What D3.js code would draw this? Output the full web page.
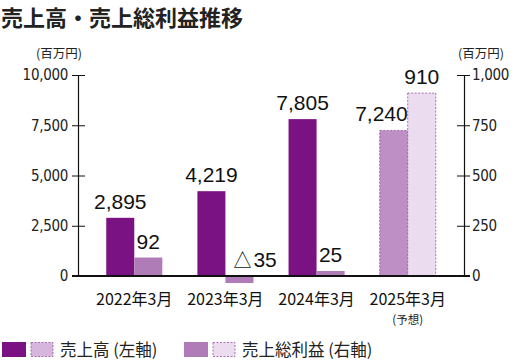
<!DOCTYPE html>
<html lang="ja">
<head>
<meta charset="UTF-8">
<title>売上高・売上総利益推移</title>
<script src="https://d3js.org/d3.v7.min.js"></script>
<style>
  body { margin: 0; background: #fff; }
  svg { display: block; }
  .tick text { font-family: "Liberation Sans Narrow", "DejaVu Sans Condensed", sans-serif; font-size: 15px; letter-spacing: -0.3px; fill: #222; }
  .tick line, .domain { stroke: #111; }
</style>
</head>
<body>
<svg width="513" height="361"></svg>
<script>
// data
const years = ["2022年3月", "2023年3月", "2024年3月", "2025年3月"];
const sales = [2895, 4219, 7805, 7240];          // 売上高 (左軸)
const grossProfit = [92, -35, 25, 910];          // 売上総利益 (右軸)
const salesText = ["2,895", "4,219", "7,805", "7,240"];
const profitText = ["92", "△35", "25", "910"];
const isForecast = [false, false, false, true];
const leftTicks = [0, 2500, 5000, 7500, 10000];
const rightTicks = [0, 250, 500, 750, 1000];

const colors = {
  sales: "#7b1283", salesFc: "#bd8fc5", salesFcLegend: "#d6b6dc",
  profit: "#b07cb8", profitFc: "#ecdcef", dash: "#9a4fa5"
};

const svg = d3.select("svg");
const fontJP = "'Noto Sans CJK JP', sans-serif";
const fontNum = "'Liberation Sans', Arial, sans-serif";

// title
svg.append("text")
  .attr("x", 1).attr("y", 26)
  .attr("font-family", fontJP).attr("font-weight", "bold")
  .attr("font-size", 22).attr("fill", "#222")
  .text("売上高・売上総利益推移");

// scales
const x = d3.scaleBand().domain(years).range([78, 464])
  .paddingInner(0.385).paddingOuter(0.31);
const sub = d3.scaleBand().domain(["s", "p"]).range([0, x.bandwidth()]);
const yL = d3.scaleLinear().domain([0, 10000]).range([276, 75]);
const yR = d3.scaleLinear().domain([0, 1000]).range([276, 75]);

// axes
const axL = svg.append("g").attr("transform", "translate(78,0)")
  .call(d3.axisLeft(yL).tickValues(leftTicks).tickFormat(d3.format(",")).tickSize(6).tickPadding(4).tickSizeOuter(0));
axL.selectAll(".tick line").attr("x2", -6).attr("x1", 7);
axL.select(".domain").attr("stroke-width", 1.2);

const axR = svg.append("g").attr("transform", "translate(464,0)")
  .call(d3.axisRight(yR).tickValues(rightTicks).tickFormat(d3.format(",")).tickSize(6).tickPadding(2).tickSizeOuter(0));
axR.selectAll(".tick line").attr("x1", -7).attr("x2", 6);
axR.select(".domain").attr("stroke-width", 1.2);

// unit labels
[[59, "(百万円)"], [481, "(百万円)"]].forEach(([cx, t]) => {
  svg.append("text").attr("x", cx).attr("y", 58).attr("text-anchor", "middle")
    .attr("font-family", fontJP).attr("font-size", 12.5).attr("fill", "#222").text(t);
});

// bars
const rows = years.map((y, i) => ({ year: y, s: sales[i], p: grossProfit[i], st: salesText[i], pt: profitText[i], fc: isForecast[i] }));

const g = svg.append("g");
rows.forEach(d => {
  const x0 = x(d.year);
  // sales
  g.append("rect")
    .attr("x", x0 + sub("s")).attr("width", sub.bandwidth())
    .attr("y", yL(d.s)).attr("height", yL(0) - yL(d.s))
    .attr("fill", d.fc ? colors.salesFc : colors.sales)
    .attr("stroke", d.fc ? colors.dash : "none")
    .attr("stroke-dasharray", d.fc ? "2,1.5" : null).attr("stroke-width", 0.8);
  // gross profit
  g.append("rect")
    .attr("x", x0 + sub("p")).attr("width", sub.bandwidth())
    .attr("y", yR(Math.max(0, d.p))).attr("height", Math.abs(yR(d.p) - yR(0)))
    .attr("fill", d.fc ? colors.profitFc : colors.profit)
    .attr("stroke", d.fc ? colors.dash : "none")
    .attr("stroke-dasharray", d.fc ? "2,1.5" : null).attr("stroke-width", 0.8);

  // value labels
  const sx = d.fc ? x0 + sub("s") + sub.bandwidth() : x0 + sub("s") + sub.bandwidth() / 2;
  g.append("text")
    .attr("x", sx).attr("y", yL(d.s) - 9)
    .attr("text-anchor", d.fc ? "end" : "middle")
    .attr("font-family", fontNum).attr("font-size", 21).attr("fill", "#111")
    .text(d.st);
  const neg = d.p < 0;
  g.append("text")
    .attr("x", neg ? x0 + sub("p") + 7 : x0 + sub("p") + sub.bandwidth() / 2)
    .attr("y", neg ? yR(0) - 9 : yR(d.p) - 9)
    .attr("text-anchor", neg ? "start" : "middle")
    .attr("font-family", fontNum).attr("font-size", 21).attr("fill", "#111")
    .text(d.pt);
});

// baseline
svg.append("line").attr("x1", 72).attr("x2", 470)
  .attr("y1", yL(0)).attr("y2", yL(0))
  .attr("stroke", "#111").attr("stroke-width", 2);

// category labels
rows.forEach(d => {
  const cx = x(d.year) + x.bandwidth() / 2;
  svg.append("text").attr("x", cx).attr("y", 305).attr("text-anchor", "middle")
    .attr("font-family", fontJP).attr("font-size", 16).attr("fill", "#111").text(d.year);
  if (d.fc) {
    svg.append("text").attr("x", cx).attr("y", 324).attr("text-anchor", "middle")
      .attr("font-family", fontJP).attr("font-size", 11.5).attr("fill", "#222").text("(予想)");
  }
});

// legend
const legend = [
  { x: 2, solid: colors.sales, light: colors.salesFcLegend, label: "売上高 (左軸)" },
  { x: 184, solid: colors.profit, light: colors.profitFc, label: "売上総利益 (右軸)" }
];
legend.forEach(l => {
  svg.append("rect").attr("x", l.x).attr("y", 342).attr("width", 24).attr("height", 15).attr("fill", l.solid);
  svg.append("rect").attr("x", l.x + 29).attr("y", 342.5).attr("width", 22).attr("height", 14)
    .attr("fill", l.light).attr("stroke", colors.dash).attr("stroke-width", 0.8).attr("stroke-dasharray", "2,1.5");
  svg.append("text").attr("x", l.x + 58).attr("y", 356)
    .attr("font-family", fontJP).attr("font-size", 16.5).attr("fill", "#222").text(l.label);
});
</script>
</body>
</html>
